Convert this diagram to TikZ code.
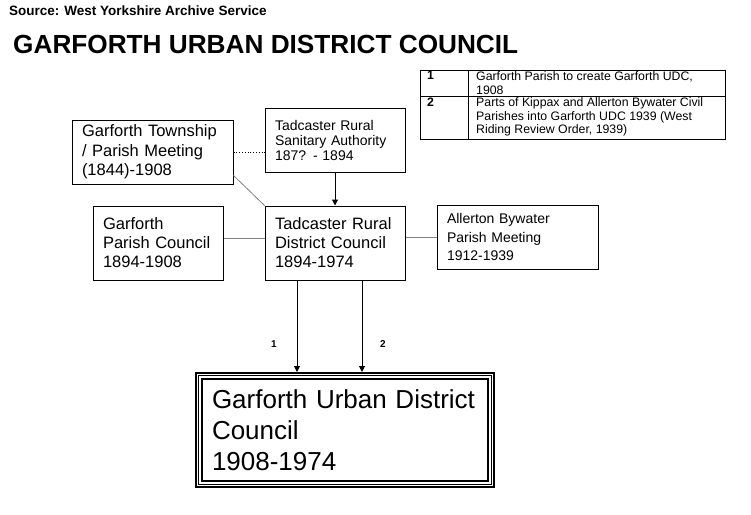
\documentclass[tikz,border=0pt]{standalone}
\usepackage{fontspec}
\setmainfont{Liberation Sans}
\usetikzlibrary{arrows.meta}
\tikzset{
  box/.style={rectangle, draw=black, line width=1pt, inner sep=0pt, align=left},
  heading/.style={anchor=base west, inner sep=0pt, font=\bfseries},
  note/.style={anchor=north west, inner sep=0pt, align=left, font=\fontsize{12.3}{14}\selectfont},
  tag/.style={inner sep=0pt, font=\bfseries\fontsize{10}{12}\selectfont},
  link/.style={draw=gray, line width=0.8pt},
  feed/.style={draw=black, line width=1pt, -{Triangle[length=6pt,width=6pt]}}
}

\begin{document}
\begin{tikzpicture}[x=1pt,y=-1pt]
        \useasboundingbox (0,0) rectangle (751,514);
        \node[heading, font=\bfseries\fontsize{13.5}{15}\selectfont] (source) at (9,15) {Source: West Yorkshire Archive Service};
        \node[heading, font=\bfseries\fontsize{26.2}{30}\selectfont] (title) at (13,53) {GARFORTH URBAN DISTRICT COUNCIL};

        \node[box, minimum width=161pt, minimum height=64pt, text width=141pt,
          font=\fontsize{16.5}{19.5}\selectfont] (township) at (152.5,152) {Garforth Township\\/ Parish Meeting\\(1844)-1908};
        \node[box, minimum width=140pt, minimum height=64pt, text width=120pt,
          font=\fontsize{14}{15}\selectfont] (rsa) at (335,140) {Tadcaster Rural\\Sanitary Authority\\187? - 1894};
        \node[box, minimum width=130pt, minimum height=74pt, text width=110pt,
          font=\fontsize{16.5}{19}\selectfont] (pc) at (158,243) {Garforth\\Parish Council\\1894-1908};
        \node[box, minimum width=140pt, minimum height=74pt, text width=120pt,
          font=\fontsize{16.5}{19}\selectfont] (rdc) at (335,243) {Tadcaster Rural\\District Council\\1894-1974};
        \node[box, minimum width=161pt, minimum height=64pt, text width=141pt,
          font=\fontsize{14}{18.5}\selectfont] (allerton) at (517.5,237) {Allerton Bywater\\Parish Meeting\\1912-1939};
        \node[box, line width=2pt, minimum width=298pt, minimum height=114pt, text width=266pt,
          font=\fontsize{26}{31}\selectfont] (udc) at (345,430) {Garforth Urban District\\Council\\1908-1974};
        \draw[line width=1pt] ([shift={(3.5,3.5)}]udc.north west) rectangle ([shift={(-3.5,-3.5)}]udc.south east);
        \draw[line width=2pt] ([shift={(7,7)}]udc.north west) rectangle ([shift={(-7,-7)}]udc.south east);

        % key to the numbered changes
        \draw[line width=1pt] (420,70) rectangle (725,139);
        \draw[line width=1pt] (468,70) -- (468,139);
        \draw[line width=1pt] (420,96) -- (725,96);
        \node[note, font=\bfseries\fontsize{12.3}{14}\selectfont] (k1) at (427,71) {1};
        \node[note] (t1) at (476,71) {Garforth Parish to create Garforth UDC,\\1908};
        \node[note, font=\bfseries\fontsize{12.3}{14}\selectfont] (k2) at (427,97.5) {2};
        \node[note, font=\fontsize{12.3}{13.5}\selectfont] (t2) at (476,97.5) {Parts of Kippax and Allerton Bywater Civil\\Parishes into Garforth UDC 1939 (West\\Riding Review Order, 1939)};

        \coordinate (tw) at ([yshift=9pt]township.south east);
        \coordinate (pcr) at ([yshift=5pt]pc.east);
        \coordinate (rdcl) at ([yshift=5pt]rdc.west);
        \coordinate (rdcr) at (rdc.east |- allerton.west);
        \coordinate (a1) at ([xshift=-38pt]rdc.south);
        \coordinate (a2) at ([xshift=27pt]rdc.south);

        \draw[black, line width=0.8pt, dotted] (township.east) -- (rsa.west |- township.east);
        \foreach \from/\to in {
          tw/rdc.north west,
          pcr/rdcl,
          rdcr/allerton.west}
        \draw[link] (\from) -- (\to);

        \draw[feed] (rsa.south) -- (rdc.north);
        \draw[feed] (a1) -- (a1 |- udc.north);
        \draw[feed] (a2) -- (a2 |- udc.north);
        \node[tag] (l1) at (274,344) {1};
        \node[tag] (l2) at (383,344) {2};
      \end{tikzpicture}
\end{document}
